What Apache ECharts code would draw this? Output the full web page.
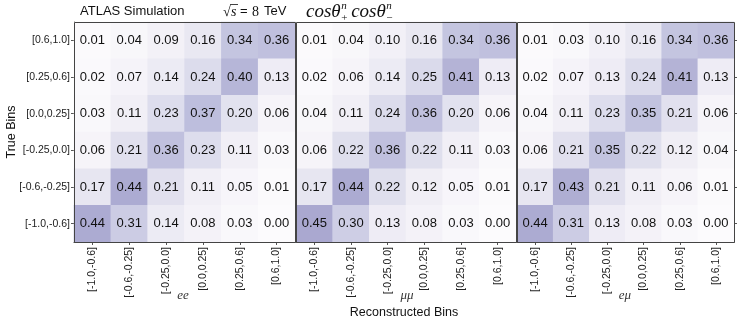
<!DOCTYPE html>
<html>
<head>
<meta charset="utf-8">
<script src="https://cdn.jsdelivr.net/npm/echarts@6/dist/echarts.min.js"></script>
<style>
html,body{margin:0;padding:0;background:#fff;}
#c{width:742px;height:327px;}
</style>
</head>
<body>
<div id="c"></div>
<script>
// Bin labels (bottom to top on y, left to right on x)
const binLabels = ['[-1.0,-0.6]', '[-0.6,-0.25]', '[-0.25,0.0]', '[0.0,0.25]', '[0.25,0.6]', '[0.6,1.0]'];
const channels = ['ee', 'μμ', 'eμ'];

// Migration matrices, rows listed from top true bin [0.6,1.0] down to [-1.0,-0.6]
const eeValues = [
  [0.01, 0.04, 0.09, 0.16, 0.34, 0.36],
  [0.02, 0.07, 0.14, 0.24, 0.40, 0.13],
  [0.03, 0.11, 0.23, 0.37, 0.20, 0.06],
  [0.06, 0.21, 0.36, 0.23, 0.11, 0.03],
  [0.17, 0.44, 0.21, 0.11, 0.05, 0.01],
  [0.44, 0.31, 0.14, 0.08, 0.03, 0.00]
];
const mumuValues = [
  [0.01, 0.04, 0.10, 0.16, 0.34, 0.36],
  [0.02, 0.06, 0.14, 0.25, 0.41, 0.13],
  [0.04, 0.11, 0.24, 0.36, 0.20, 0.06],
  [0.06, 0.22, 0.36, 0.22, 0.11, 0.03],
  [0.17, 0.44, 0.22, 0.12, 0.05, 0.01],
  [0.45, 0.30, 0.13, 0.08, 0.03, 0.00]
];
const emuValues = [
  [0.01, 0.03, 0.10, 0.16, 0.34, 0.36],
  [0.02, 0.07, 0.13, 0.24, 0.41, 0.13],
  [0.04, 0.11, 0.23, 0.35, 0.21, 0.06],
  [0.06, 0.21, 0.35, 0.22, 0.12, 0.04],
  [0.17, 0.43, 0.21, 0.11, 0.06, 0.01],
  [0.44, 0.31, 0.13, 0.08, 0.03, 0.00]
];
const matrices = [eeValues, mumuValues, emuValues];

const SANS = "'Liberation Sans', Arial, Helvetica, sans-serif";
const SERIF = "'Liberation Serif', 'DejaVu Serif', serif";

const panels = [
  {left: 74, width: 221},
  {left: 296, width: 220},
  {left: 517, width: 217}
];
const TOP = 22, HEIGHT = 220;

function toData(m) {
  const out = [];
  const n = m.length;
  for (let r = 0; r < n; r++) {
    for (let c = 0; c < m[r].length; c++) {
      out.push([c, n - 1 - r, m[r][c]]);
    }
  }
  return out;
}

const grids = panels.map(p => ({left: p.left, top: TOP, width: p.width, height: HEIGHT, containLabel: false}));

const xAxes = panels.map((p, i) => ({
  type: 'category', gridIndex: i, data: binLabels, position: 'bottom',
  axisLine: {show: true, lineStyle: {color: '#333', width: 1}},
  axisTick: {show: true, alignWithLabel: true, length: 3, lineStyle: {color: '#555'}},
  axisLabel: {rotate: 90, fontSize: 10.5, color: '#222', fontFamily: SANS, margin: 5},
  splitLine: {show: false}
}));

const yAxes = [
  {
    type: 'category', gridIndex: 0, data: binLabels, position: 'left',
    axisLine: {show: true, lineStyle: {color: '#333', width: 1}},
    axisTick: {show: true, alignWithLabel: true, length: 3, lineStyle: {color: '#555'}},
    axisLabel: {fontSize: 10.5, color: '#222', fontFamily: SANS, margin: 4},
    splitLine: {show: false}
  },
  {
    type: 'category', gridIndex: 1, data: binLabels,
    axisLine: {show: false}, axisTick: {show: false}, axisLabel: {show: false}
  },
  {
    type: 'category', gridIndex: 2, data: binLabels,
    axisLine: {show: false}, axisTick: {show: false}, axisLabel: {show: false}
  },
  {
    type: 'category', gridIndex: 2, data: binLabels, position: 'right',
    axisLine: {show: false},
    axisTick: {show: true, alignWithLabel: true, length: 3, lineStyle: {color: '#555'}},
    axisLabel: {show: false}
  }
];

const series = matrices.map((m, i) => ({
  type: 'heatmap', xAxisIndex: i, yAxisIndex: i,
  data: toData(m),
  label: {
    show: true, fontSize: 13, color: '#111', fontFamily: SANS,
    formatter: p => p.value[2].toFixed(2)
  },
  itemStyle: {borderWidth: 0},
  emphasis: {disabled: true}
}));

const graphics = [];
// panel frames
panels.forEach((p, i) => {
  graphics.push({
    type: 'rect', shape: {x: p.left + 0.5, y: TOP + 0.5, width: p.width, height: HEIGHT},
    style: {fill: 'none', stroke: '#444', lineWidth: 1}, z: 100, silent: true
  });
});
// channel sublabels
const subX = [183, 407, 625];
channels.forEach((ch, i) => {
  graphics.push({
    type: 'text', x: subX[i], y: 296,
    style: {text: ch, font: 'italic 13px ' + SERIF, fill: '#333', align: 'center', verticalAlign: 'middle'}, z: 100
  });
});
// axis titles
graphics.push({
  type: 'text', x: 404, y: 313,
  style: {text: 'Reconstructed Bins', font: '12.5px ' + SANS, fill: '#111', align: 'center', verticalAlign: 'middle'}, z: 100
});
graphics.push({
  type: 'text', x: 12, y: 132, rotation: Math.PI / 2,
  style: {text: 'True Bins', font: '12.5px ' + SANS, fill: '#111', align: 'center', verticalAlign: 'middle'}, z: 100
});
// header
graphics.push({
  type: 'text', x: 80, y: 11,
  style: {text: 'ATLAS Simulation', font: '13px ' + SANS, fill: '#111', align: 'left', verticalAlign: 'middle'}, z: 100
});
graphics.push({
  type: 'text', x: 223, y: 12,
  style: {text: '√', font: '14px ' + SERIF, fill: '#111', align: 'left', verticalAlign: 'middle'}, z: 100
});
graphics.push({
  type: 'line', shape: {x1: 230, y1: 4.5, x2: 238, y2: 4.5},
  style: {stroke: '#111', lineWidth: 0.8}, z: 100
});
graphics.push({
  type: 'text', x: 231, y: 12,
  style: {text: 's', font: 'italic 14px ' + SERIF, fill: '#111', align: 'left', verticalAlign: 'middle'}, z: 100
});
graphics.push({
  type: 'text', x: 240, y: 11,
  style: {text: '= ', font: '13px ' + SANS, fill: '#111', align: 'left', verticalAlign: 'middle'}, z: 100
});
graphics.push({
  type: 'text', x: 252, y: 12,
  style: {text: '8', font: '14px ' + SERIF, fill: '#111', align: 'left', verticalAlign: 'middle'}, z: 100
});
graphics.push({
  type: 'text', x: 264, y: 11,
  style: {text: 'TeV', font: '13px ' + SANS, fill: '#111', align: 'left', verticalAlign: 'middle'}, z: 100
});
// cos theta_+^n cos theta_-^n, laid out with measured widths
const mctx = document.createElement('canvas').getContext('2d');
const COS_FONT = 'italic 19px ' + SERIF;
const SUP_FONT = 'italic 11px ' + SERIF;
const SUB_FONT = '11px ' + SERIF;
mctx.font = COS_FONT;
const cosW = mctx.measureText('cosθ').width;
mctx.font = SUP_FONT;
const nW = mctx.measureText('n').width;
let mx = 306;
['+', '−'].forEach(sign => {
  graphics.push({type: 'text', x: mx, y: 12,
    style: {text: 'cosθ', font: COS_FONT, fill: '#111', align: 'left', verticalAlign: 'middle'}, z: 100});
  const sx = mx + cosW + 0.5;
  graphics.push({type: 'text', x: sx, y: 6,
    style: {text: 'n', font: SUP_FONT, fill: '#111', align: 'left', verticalAlign: 'middle'}, z: 100});
  graphics.push({type: 'text', x: sx, y: 18,
    style: {text: sign, font: SUB_FONT, fill: '#111', align: 'left', verticalAlign: 'middle'}, z: 100});
  mx = sx + Math.max(nW, 7) + 3;
});

const option = {
  animation: false,
  backgroundColor: '#fff',
  grid: grids,
  xAxis: xAxes,
  yAxis: yAxes,
  visualMap: {
    show: false, type: 'continuous', seriesIndex: [0, 1, 2], dimension: 2,
    min: 0, max: 0.5,
    inRange: {color: ['#fcfbfd', '#efedf5', '#dadaeb', '#bcbddc', '#9e9ac8']}
  },
  series: series,
  graphic: graphics
};

const chart = echarts.init(document.getElementById('c'), null, {renderer: 'canvas'});
chart.setOption(option);
</script>
</body>
</html>
